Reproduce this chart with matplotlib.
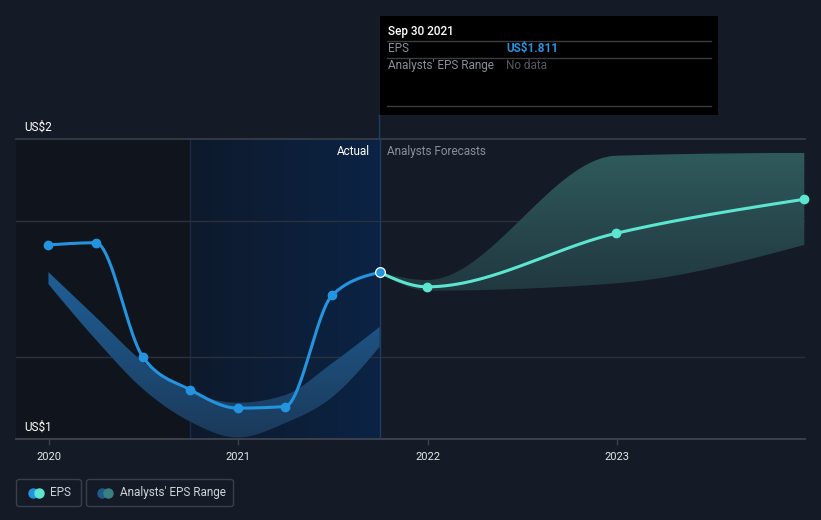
import numpy as np
import matplotlib
matplotlib.use("Agg")
import matplotlib.pyplot as plt
from matplotlib.patches import Rectangle, FancyBboxPatch, PathPatch
from matplotlib.path import Path
from matplotlib.lines import Line2D
from matplotlib.colors import LinearSegmentedColormap

plt.rcParams['font.family'] = ['Roboto', 'DejaVu Sans']

# ---------------- data ----------------
actual_dates = [2019.997, 2020.247, 2020.497, 2020.747, 2020.997, 2021.247, 2021.497, 2021.747]
actual_eps = [1.912, 1.920, 1.499, 1.379, 1.312, 1.318, 1.728, 1.811]

past_range_dates = [2019.997, 2020.247, 2020.497, 2020.747, 2020.997, 2021.247, 2021.497, 2021.747]
past_range_high = [1.812, 1.647, 1.482, 1.372, 1.332, 1.360, 1.478, 1.611]
past_range_low = [1.768, 1.564, 1.382, 1.262, 1.204, 1.257, 1.353, 1.538]

fc_dates = [2021.747, 2021.997, 2022.997, 2023.990]
fc_eps = [1.811, 1.758, 1.955, 2.080]
fc_high = [1.811, 1.783, 2.240, 2.251]
fc_low = [1.811, 1.744, 1.771, 1.912]

year_ticks = [2020, 2021, 2022, 2023]
year_labels = ["2020", "2021", "2022", "2023"]
grid_values = [1.5, 2.0]
y_label_top = "US$2"
y_label_bottom = "US$1"

tooltip_date = "Sep 30 2021"
tooltip_eps = "US$1.811"

# ---------------- helpers ----------------
def monotone_x(xs, ys, n=60):
    xs = np.asarray(xs, float); ys = np.asarray(ys, float)
    m = len(xs)
    h = np.diff(xs); s = np.diff(ys) / h
    t = np.zeros(m)
    for i in range(1, m - 1):
        s0, s1, h0, h1 = s[i - 1], s[i], h[i - 1], h[i]
        p = (s0 * h1 + s1 * h0) / (h0 + h1)
        t[i] = (np.sign(s0) + np.sign(s1)) * min(abs(s0), abs(s1), 0.5 * abs(p))
    if m > 2:
        t[0] = (3 * s[0] - t[1]) / 2
        t[-1] = (3 * s[-1] - t[-2]) / 2
    else:
        t[:] = s[0]
    X, Y = [], []
    for i in range(m - 1):
        u = np.linspace(0, 1, n, endpoint=(i == m - 2))
        x0, x1 = xs[i], xs[i + 1]
        dx = (x1 - x0) / 3
        P0 = np.array([x0, ys[i]]); P1 = np.array([x0 + dx, ys[i] + dx * t[i]])
        P2 = np.array([x1 - dx, ys[i + 1] - dx * t[i + 1]]); P3 = np.array([x1, ys[i + 1]])
        B = ((1 - u) ** 3)[:, None] * P0 + (3 * (1 - u) ** 2 * u)[:, None] * P1 + \
            (3 * (1 - u) * u ** 2)[:, None] * P2 + (u ** 3)[:, None] * P3
        X.extend(B[:, 0]); Y.extend(B[:, 1])
    return np.array(X), np.array(Y)

W, H = 821, 520
fig = plt.figure(figsize=(W / 100, H / 100), dpi=100)
bg = "#151b26"
fig.patch.set_facecolor(bg)

ax_l, ax_r, ax_t, ax_b = 16, 805, 139, 439
ax = fig.add_axes([ax_l / W, 1 - ax_b / H, (ax_r - ax_l) / W, (ax_b - ax_t) / H])
ax.set_facecolor(bg)
px_per_unit = 272.0
ymin = 1.5 - (ax_b - 357) / px_per_unit
ymax = 2.0 + (221 - ax_t) / px_per_unit
xmin = 2020 - (49 - ax_l) / 189.3
xmax = 2020 + (ax_r - 49) / 189.3
ax.set_xlim(xmin, xmax)
ax.set_ylim(ymin, ymax)
for sp in ax.spines.values():
    sp.set_visible(False)
ax.set_yticks([])
ax.set_xticks(year_ticks)
ax.set_xticklabels(year_labels, color="#e6e8eb", fontsize=8)
ax.tick_params(axis='x', length=4, width=1, color="#3a404b", pad=5)

# background regions
ax.add_patch(Rectangle((xmin, ymin), 2020.747 - xmin, ymax - ymin, color="#10151d", zorder=0, lw=0))
grad = np.linspace(0, 1, 256).reshape(1, -1)
cm_blue = LinearSegmentedColormap.from_list("b", ["#0e1a2c", "#0b2344"])
ax.imshow(grad, extent=[2020.747, 2021.747, ymin, ymax], aspect='auto', cmap=cm_blue, zorder=0.5)
ax.axvline(2020.747, color="#1b2b44", lw=1, zorder=0.6)

# grid lines
for g in grid_values:
    ax.axhline(g, color="#2b313c", lw=1, zorder=1)
ax.axhline(ymax, color="#3a404b", lw=1.2, zorder=1, clip_on=False)
ax.axhline(ymin, color="#3a404b", lw=1.5, zorder=1, clip_on=False)

# gradient-filled bands
def grad_band(xs, hi, lo, c_top, c_bot, z):
    x1, y1 = monotone_x(xs, hi)
    x2, y2 = monotone_x(xs, lo)
    verts = np.concatenate([np.column_stack([x1, y1]), np.column_stack([x2[::-1], y2[::-1]])])
    path = Path(np.vstack([verts, verts[:1]]), closed=True)
    patch = PathPatch(path, facecolor='none', edgecolor='none')
    ax.add_patch(patch)
    cm = LinearSegmentedColormap.from_list("g", [c_bot, c_top])
    g = np.linspace(0, 1, 256).reshape(-1, 1)
    im = ax.imshow(g, extent=[min(xs), max(xs), min(lo), max(hi)], origin='lower',
                   aspect='auto', cmap=cm, zorder=z)
    im.set_clip_path(patch)

grad_band(past_range_dates, past_range_high, past_range_low, "#1f5f97", "#1b3a5a", 2)
grad_band(fc_dates, fc_high, fc_low, "#2f5a5b", "#213840", 2)

# vertical "now" line
ax.axvline(2021.747, color="#1f3d63", lw=1, zorder=1.5)

# EPS lines
xa, ya = monotone_x(actual_dates, actual_eps)
ax.plot(xa, ya, color="#2394df", lw=2.2, zorder=4, solid_capstyle='round')
ax.plot(actual_dates[:-1], actual_eps[:-1], 'o', color="#2394df", ms=6, zorder=5)
xf, yf = monotone_x(fc_dates, fc_eps)
ax.plot(xf, yf, color="#5ce6d0", lw=2.2, zorder=4, solid_capstyle='round')
ax.plot(fc_dates[1:], fc_eps[1:], 'o', color="#5ce6d0", ms=6, zorder=5, clip_on=False)
ax.plot([actual_dates[-1]], [actual_eps[-1]], 'o', color="#2394df", ms=7, mec="#ffffff",
        mew=0.9, zorder=6)

# text in axes region
def fx(x): return x / W
def fy(y): return 1 - y / H

fig.text(fx(370), fy(151), "Actual", color="#ffffff", fontsize=8.5, ha='right', va='center')
fig.text(fx(387), fy(151), "Analysts Forecasts", color="#8a8f98", fontsize=8.5, ha='left', va='center')
fig.text(fx(24), fy(127), y_label_top, color="#ffffff", fontsize=8.5, ha='left', va='center')
fig.text(fx(24), fy(427), y_label_bottom, color="#ffffff", fontsize=8.5, ha='left', va='center')

# tooltip
fig.patches.append(Rectangle((fx(380), fy(115)), (718 - 380) / W, (115 - 16) / H,
                             transform=fig.transFigure, facecolor="#000000", edgecolor='none', zorder=10))
fig.add_artist(Line2D([fx(379), fx(379)], [fy(115), fy(ax_t)], color="#1f3d63", lw=1,
                      transform=fig.transFigure))
for yy in [40.5, 57.5, 106]:
    fig.add_artist(Line2D([fx(387), fx(711)], [fy(yy), fy(yy)], color="#3a3d42", lw=1,
                          transform=fig.transFigure, zorder=11))
fig.text(fx(388), fy(31), tooltip_date, color="#ffffff", fontsize=8.5, ha='left', va='center',
         fontweight='medium', zorder=12)
fig.text(fx(388), fy(48.5), "EPS", color="#8a8f98", fontsize=8.5, ha='left', va='center', zorder=12)
fig.text(fx(506), fy(48.5), tooltip_eps, color="#2394df", fontsize=8.5, ha='left', va='center',
         fontweight='bold', zorder=12)
fig.text(fx(388), fy(65.5), "Analysts' EPS Range", color="#8a8f98", fontsize=8.5, ha='left',
         va='center', zorder=12)
fig.text(fx(506), fy(65.5), "No data", color="#55595f", fontsize=8.5, ha='left', va='center',
         zorder=12)

# legend
def box(x0, x1, y0, y1):
    p = FancyBboxPatch((fx(x0), fy(y1)), (x1 - x0) / W, (y1 - y0) / H,
                       boxstyle="round,pad=0,rounding_size=0.004", transform=fig.transFigure,
                       facecolor='none', edgecolor="#3a404b", lw=1)
    fig.patches.append(p)

box(16.5, 81.5, 479.5, 506.5)
box(86.5, 233.5, 479.5, 506.5)
for cx, col in [(33, "#2394df"), (39, "#5ce6d0"), (102, "#1f5a8a"), (108, "#3a8080")]:
    fig.add_artist(Line2D([fx(cx)], [fy(492.5)], marker='o', ms=6.5, color=col, lw=0,
                          transform=fig.transFigure))
fig.text(fx(50), fy(492.5), "EPS", color="#d0d3d8", fontsize=8.5, ha='left', va='center')
fig.text(fx(120), fy(492.5), "Analysts' EPS Range", color="#d0d3d8", fontsize=8.5, ha='left',
         va='center')

fig.savefig("out.png", dpi=100, facecolor=bg)
